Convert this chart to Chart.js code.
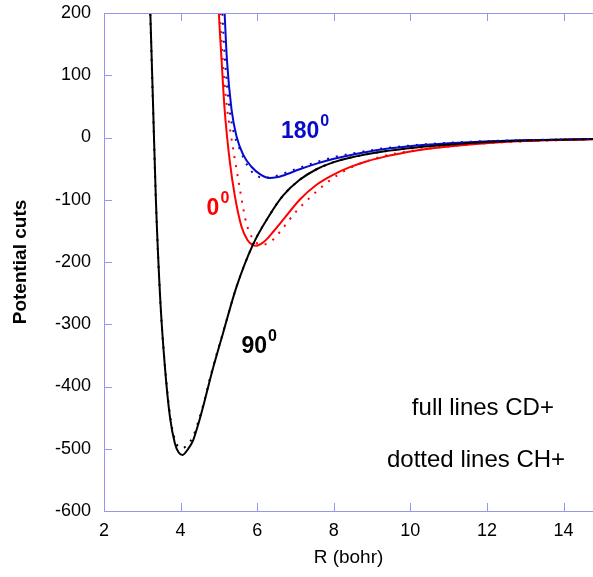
<!DOCTYPE html>
<html>
<head>
<meta charset="utf-8">
<script src="https://cdn.jsdelivr.net/npm/chart.js@4/dist/chart.umd.min.js"></script>
<style>
    body { margin: 0; background: #fff; }
    canvas { display: block; }
</style>
</head>
<body>
<canvas id="myChart" width="593" height="577"></canvas>
<script>
// tick labels
const xTicks = [2, 4, 6, 8, 10, 12, 14];
const yTicks = [-600, -500, -400, -300, -200, -100, 0, 100, 200];

// 90 deg cut, CD+ (full) and CH+ (dotted)
const rCD90 = [3.10, 3.21, 3.28, 3.355, 3.47, 3.59, 3.72, 3.85, 3.95, 4.05, 4.20, 4.33, 4.45, 4.59, 4.81, 5.11, 5.46, 5.89, 6.33, 6.68, 7.11, 7.55, 7.98, 8.42, 9.29, 10.16, 11.0, 11.8, 13.0, 14.0, 14.8];
const vCD90 = [440, 200, 55, -100, -261, -368, -448, -491, -506, -510, -500, -486, -463, -432, -379, -314, -240, -172, -124, -93, -68, -51, -40, -32.5, -22.5, -16, -11.5, -8, -5, -3.5, -2.5];
const rCH90 = [3.10, 3.21, 3.28, 3.355, 3.47, 3.59, 3.72, 3.85, 3.95, 4.05, 4.20, 4.33, 4.45, 4.59, 4.81, 5.11, 5.46, 5.89, 6.33, 6.68, 7.11, 7.55, 7.98, 8.42, 9.29, 10.16, 11.0, 11.8, 13.0, 14.0, 14.8];
const vCH90 = [430, 195, 50, -102, -262, -366, -444, -486, -497, -499, -492, -480, -459, -430, -377, -313, -240, -172, -124, -93, -68, -51, -40, -32.5, -22.5, -16, -11.5, -8, -5, -3.5, -2.5];

// 0 deg cut
const rCD0 = [4.92, 5.00, 5.07, 5.15, 5.28, 5.42, 5.59, 5.75, 5.89, 5.98, 6.10, 6.24, 6.45, 6.68, 7.11, 7.55, 7.98, 8.42, 8.85, 9.29, 9.72, 10.16, 11.0, 11.8, 13.0, 14.0, 14.8];
const vCD0 = [330, 200, 125, 45, -36, -95, -143, -165, -173, -174, -171, -164, -149, -132, -100, -76, -60, -47.6, -38.5, -31.5, -26, -21, -14.5, -10, -5.8, -3.8, -2.7];
const rCH0 = [4.95, 5.03, 5.10, 5.19, 5.30, 5.42, 5.54, 5.64, 5.72, 5.86, 6.00, 6.15, 6.28, 6.42, 6.64, 6.98, 7.37, 7.81, 8.42, 9.12, 9.90, 11.0, 11.8, 13.0, 14.8];
const vCH0 = [330, 200, 125, 60, 10, -36, -80, -115, -138, -160, -170, -172, -170, -164, -148, -121.5, -97, -73, -49, -33, -22.5, -14.5, -10, -6, -2.7];

// 180 deg cut
const rCD180 = [5.08, 5.15, 5.21, 5.33, 5.46, 5.63, 5.85, 6.10, 6.33, 6.50, 6.68, 7.11, 7.55, 7.98, 8.42, 9.29, 10.16, 11.0, 11.8, 13.0, 14.8];
const vCD180 = [300, 200, 125, 45, 2, -27, -47, -60, -65, -64, -61, -51, -42, -34.5, -28.5, -19, -13, -9.3, -6.8, -4.5, -2.5];
const rCH180 = [5.02, 5.09, 5.16, 5.28, 5.40, 5.50, 5.63, 5.76, 5.94, 6.10, 6.25, 6.42, 6.68, 7.11, 7.55, 7.98, 8.42, 9.29, 10.16, 11.0, 11.8, 13.0, 14.8];
const vCH180 = [300, 200, 125, 45, 5, -12, -31, -46.5, -60, -64, -64.5, -63, -58, -48.5, -39.5, -32, -26.5, -17.5, -12, -8.5, -6.2, -4.3, -2.4];

const axisColor = '#9696ee';

function toPoints(r, v) {
    return r.map((x, i) => ({ x: x, y: v[i] }));
}

function curve(r, v, color, dotted) {
    return {
        data: toPoints(r, v),
        borderColor: color,
        borderWidth: 2,
        borderDash: dotted ? [2, 7] : [],
        pointRadius: 0,
        showLine: true,
        fill: false,
        cubicInterpolationMode: 'monotone'
    };
}

// frame with inner ticks, plus the text labels
const framePlugin = {
    id: 'frame',
    afterDraw(chart) {
        const ctx = chart.ctx;
        const a = chart.chartArea;
        const xs = chart.scales.x;
        const ys = chart.scales.y;
        ctx.save();
        ctx.strokeStyle = axisColor;
        ctx.lineWidth = 1;
        ctx.beginPath();
        ctx.moveTo(a.left + 0.5, a.top + 0.5);
        ctx.lineTo(a.left + 0.5, a.bottom + 0.5);
        ctx.lineTo(a.right, a.bottom + 0.5);
        ctx.moveTo(a.left, a.top + 0.5);
        ctx.lineTo(a.right, a.top + 0.5);
        xTicks.forEach(v => {
            const px = Math.round(xs.getPixelForValue(v)) + 0.5;
            ctx.moveTo(px, a.bottom);
            ctx.lineTo(px, a.bottom - 8);
            ctx.moveTo(px, a.top);
            ctx.lineTo(px, a.top + 8);
        });
        yTicks.forEach(v => {
            const py = Math.round(ys.getPixelForValue(v)) + 0.5;
            ctx.moveTo(a.left, py);
            ctx.lineTo(a.left + 8, py);
        });
        ctx.stroke();

        function label(r, v, main, sup, color) {
            const x = xs.getPixelForValue(r);
            const y = ys.getPixelForValue(v);
            ctx.fillStyle = color;
            ctx.textAlign = 'left';
            ctx.textBaseline = 'alphabetic';
            ctx.font = "bold 23px 'Liberation Sans', Arial, sans-serif";
            ctx.fillText(main, x, y);
            const w = ctx.measureText(main).width;
            ctx.font = "bold 16px 'Liberation Sans', Arial, sans-serif";
            ctx.fillText(sup, x + w + 1, y - 12);
        }
        label(6.62, 0, '180', '0', '#0a0acc');
        label(4.68, -124, '0', '0', '#ff0000');
        label(5.59, -346, '90', '0', '#000000');

        ctx.fillStyle = '#000';
        ctx.font = "24px 'Liberation Sans', Arial, sans-serif";
        ctx.fillText('full lines CD+', xs.getPixelForValue(10.04), ys.getPixelForValue(-445));
        ctx.fillText('dotted lines CH+', xs.getPixelForValue(9.39), ys.getPixelForValue(-530));
        ctx.restore();
    }
};

Chart.defaults.font.family = "'Liberation Sans', Arial, sans-serif";
Chart.defaults.color = '#000';

const config = {
    type: 'scatter',
    data: {
        datasets: [
            curve(rCH90, vCH90, '#000000', true),
            curve(rCH0, vCH0, '#ff0000', true),
            curve(rCH180, vCH180, '#0a0acc', true),
            curve(rCD90, vCD90, '#000000', false),
            curve(rCD0, vCD0, '#ff0000', false),
            curve(rCD180, vCD180, '#0a0acc', false)
        ]
    },
    options: {
        responsive: false,
        animation: false,
        layout: { padding: { top: 13, right: 0, left: 0, bottom: 0 } },
        plugins: {
            legend: { display: false },
            tooltip: { enabled: false }
        },
        scales: {
            x: {
                type: 'linear',
                min: 2,
                max: 14.77,
                grid: { display: false, drawTicks: false },
                border: { display: false },
                afterBuildTicks: scale => { scale.ticks = xTicks.map(v => ({ value: v })); },
                afterFit: scale => {
                    scale.height = 66;
                    scale.paddingLeft = 0;
                    scale.paddingRight = 0;
                },
                ticks: {
                    font: { size: 18 },
                    padding: 9,
                    maxRotation: 0,
                    autoSkip: false
                },
                title: {
                    display: true,
                    text: 'R (bohr)',
                    font: { size: 19 },
                    padding: { top: 0, bottom: 8 }
                }
            },
            y: {
                type: 'linear',
                min: -600,
                max: 200,
                grid: { display: false, drawTicks: false },
                border: { display: false },
                afterBuildTicks: scale => { scale.ticks = yTicks.map(v => ({ value: v })); },
                afterFit: scale => {
                    scale.width = 104;
                    scale.paddingTop = 0;
                    scale.paddingBottom = 0;
                },
                ticks: {
                    font: { size: 18 },
                    padding: 13,
                    autoSkip: false
                },
                title: {
                    display: true,
                    text: 'Potential cuts',
                    font: { size: 19, weight: 'bold' },
                    padding: { top: 9, bottom: 0 }
                }
            }
        }
    },
    plugins: [framePlugin]
};

const myChart = new Chart(document.getElementById('myChart'), config);
</script>
</body>
</html>
